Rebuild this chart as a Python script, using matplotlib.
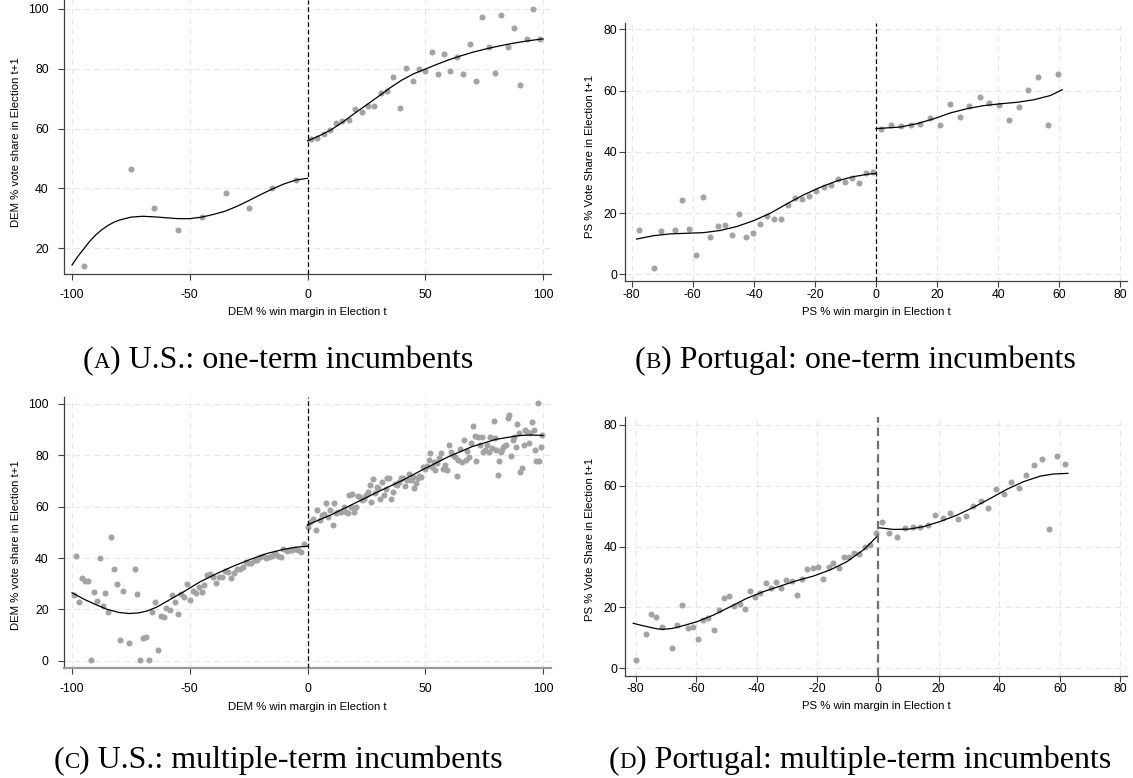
import matplotlib
matplotlib.use("Agg")
import matplotlib.pyplot as plt

plt.rcParams["font.family"] = ["Liberation Sans", "DejaVu Sans"]
plt.rcParams["axes.unicode_minus"] = False

# ---- data (binned means + fitted curves) ----

# (A) U.S.: one-term incumbents
a_x = [-95.0, -74.9, -65.0, -55.0, -44.9, -34.8, -24.9, -14.9, -5.0,
       1.4, 4.0, 6.8, 9.5, 12.1, 14.8, 17.5, 20.3, 23.0, 25.7,
       28.4, 31.1, 33.8, 36.4, 39.1, 41.8, 44.6, 47.3, 50.0, 52.7,
       55.4, 58.1, 60.7, 63.4, 66.1, 68.8, 71.6, 74.3, 77.0, 79.7,
       82.3, 85.0, 87.7, 90.4, 93.1, 95.9, 98.6]
a_y = [14.1, 46.5, 33.4, 26.1, 30.6, 38.4, 33.4, 40.3, 42.8,
       56.4, 57.0, 58.1, 59.7, 61.8, 62.7, 62.8, 66.5, 65.6, 67.6,
       67.6, 71.8, 72.6, 77.2, 66.9, 80.2, 75.8, 79.8, 79.3, 85.5,
       78.3, 85.0, 79.2, 83.8, 78.4, 88.3, 76.0, 97.4, 87.4, 78.6,
       98.0, 87.3, 93.8, 74.6, 90.1, 100.1, 90.0]
a_fit_lx = [-100, -97.5, -95, -92.5, -90, -87.5, -85, -82.5, -80, -75, -70, -65, -60,
            -55, -50, -45, -40, -35, -30, -25, -20, -15, -10, -5, 0]
a_fit_ly = [14.4, 17.3, 19.8, 22.3, 24.4, 26.1, 27.5, 28.6, 29.4, 30.4, 30.7, 30.5,
            30.2, 29.9, 29.9, 30.4, 31.3, 32.4, 34.0, 35.9, 37.9, 39.8, 41.5, 42.8, 43.4]
a_fit_rx = [0, 5, 10, 15, 20, 25, 30, 35, 40, 45, 50,
            55, 60, 65, 70, 75, 80, 85, 90, 95, 100]
a_fit_ry = [55.9, 57.6, 59.6, 62.2, 65.1, 67.9, 70.7, 73.6, 76.2, 78.3, 79.9,
            81.5, 83.0, 84.3, 85.5, 86.5, 87.4, 88.2, 88.9, 89.5, 90.0]

# (B) Portugal: one-term incumbents
b_x = [-77.5, -72.7, -70.4, -65.7, -63.4, -61.1, -58.9, -56.5, -54.2, -51.9,
       -49.6, -47.2, -44.9, -42.6, -40.4, -38.1, -35.7, -33.4, -31.1, -28.7,
       -26.4, -24.1, -21.8, -19.5, -17.1, -14.8, -12.5, -10.2, -7.8, -5.5,
       -3.2, -1.0,
       1.8, 5.0, 8.2, 11.4, 14.5, 17.8, 21.0, 24.2, 27.5, 30.6,
       33.9, 37.1, 40.3, 43.6, 46.7, 49.9, 53.2, 56.4, 59.6]
b_y = [14.5, 2.0, 14.1, 14.4, 24.3, 14.7, 6.3, 25.4, 12.3, 15.7,
       16.0, 12.7, 19.6, 12.2, 13.5, 16.4, 19.2, 18.0, 18.0, 22.7,
       25.0, 24.5, 25.6, 27.3, 28.5, 29.3, 31.0, 30.1, 31.3, 29.9,
       33.0, 33.5,
       47.6, 48.9, 48.6, 48.7, 49.0, 51.1, 48.9, 55.5, 51.4, 55.0,
       57.9, 56.1, 55.2, 50.4, 54.8, 60.2, 64.5, 48.9, 65.3]
b_fit_lx = [-78.4, -72.9, -67.4, -62.0, -56.5, -51.1, -45.6, -40.1,
            -34.7, -29.2, -23.8, -18.3, -12.8, -7.4, -1.9, 0]
b_fit_ly = [11.5, 12.6, 13.2, 13.4, 13.6, 14.3, 15.6, 17.5,
            19.9, 23.0, 25.9, 28.4, 30.5, 31.9, 32.8, 32.9]
b_fit_rx = [0, 7.9, 13.4, 18.9, 24.3, 29.8, 35.2, 40.7, 46.2, 51.6, 57.1, 61.0]
b_fit_ry = [47.6, 48.1, 49.2, 50.8, 52.7, 54.1, 55.1, 55.7, 56.2, 57.0, 58.4, 60.3]

# (C) U.S.: multiple-term incumbents
c_x = [-99.3, -98.2, -96.9, -95.6, -94.3, -93.2, -92.1, -90.8, -89.5, -88.2,
       -87.0, -85.8, -84.6, -83.3, -82.0, -80.9, -79.6, -78.3, -75.9, -73.4,
       -72.2, -71.0, -69.8, -68.6, -67.3, -66.0, -64.9, -63.6, -62.3, -61.0,
       -59.9, -58.6, -57.4, -56.1, -54.8, -53.7, -52.4, -51.1, -49.9, -48.7,
       -47.5, -46.2, -44.9, -43.8, -42.5, -41.2, -40.0, -38.7, -37.5, -36.3,
       -35.0, -33.7, -32.6, -31.3, -30.0, -28.8, -27.5, -26.3, -25.1, -23.8,
       -22.5, -21.4, -20.1, -18.8, -17.6, -16.3, -15.2, -13.9, -12.6, -11.3,
       -10.2, -8.9, -7.6, -6.4, -5.2, -4.0, -2.7, -1.4,
       0.4, 1.1, 2.3, 3.5, 4.2, 5.1, 6.1, 7.1, 7.9, 8.6,
       9.6, 10.7, 11.4, 12.1, 13.1, 14.1, 15.3, 16.4, 17.1, 17.8,
       18.5, 19.1, 19.8, 20.6, 21.3, 22.3, 23.3, 24.0, 24.9, 25.8,
       26.6, 27.1, 28.0, 28.7, 29.4, 30.1, 30.8, 31.6, 32.5, 33.3,
       33.9, 34.6, 35.3, 36.2, 37.1, 38.1, 39.0, 39.8, 40.7, 41.5,
       42.4, 43.2, 43.9, 44.6, 45.3, 46.0, 46.8, 47.5, 48.0, 48.9,
       49.9, 50.7, 51.6, 52.0, 52.8, 53.7, 54.2, 55.1, 55.9, 56.8,
       57.6, 58.5, 59.3, 60.2, 61.0, 61.9, 62.7, 63.4, 64.1, 64.8,
       65.5, 66.4, 67.1, 67.8, 68.5, 69.4, 70.2, 71.0, 71.6, 72.3,
       73.2, 73.9, 74.6, 75.4, 76.3, 77.0, 77.7, 78.2, 79.1, 79.7,
       80.2, 80.9, 81.5, 82.2, 82.8, 83.3, 84.2, 85.0, 85.7, 86.4,
       87.1, 87.9, 88.4, 89.1, 89.8, 90.4, 91.1, 91.8, 92.5, 93.2,
       93.9, 94.6, 95.3, 96.0, 96.6, 97.2, 97.7, 98.3, 99.0, 99.7]
c_y = [25.6, 40.9, 22.7, 32.1, 31.0, 31.0, 0.3, 26.6, 23.4, 40.1,
       21.3, 26.2, 19.1, 48.3, 35.6, 29.9, 8.1, 27.3, 7.1, 35.7,
       25.8, 0.3, 8.7, 9.4, 0.3, 19.1, 22.7, 4.2, 17.5, 17.1,
       20.4, 19.7, 25.6, 22.7, 18.1, 25.8, 24.9, 29.9, 23.6, 27.1,
       26.5, 28.6, 26.6, 29.5, 33.4, 33.6, 32.7, 30.1, 32.7, 32.7,
       34.9, 34.7, 32.1, 34.3, 35.6, 35.7, 36.6, 38.6, 37.9, 38.2,
       39.2, 39.2, 40.5, 40.9, 39.9, 40.5, 40.9, 41.8, 40.9, 40.5,
       43.4, 42.7, 43.1, 43.1, 43.6, 43.1, 42.2, 45.3,
       52.2, 54.2, 55.1, 50.9, 58.7, 54.8, 56.8, 57.1, 61.3, 56.1,
       58.7, 52.9, 61.6, 57.4, 58.1, 58.1, 60.0, 58.1, 57.4, 64.5,
       60.0, 64.9, 58.1, 60.0, 64.2, 63.9, 62.6, 62.9, 64.5, 65.8,
       68.4, 61.9, 70.6, 65.2, 67.8, 67.1, 62.9, 69.4, 64.5, 66.9,
       71.3, 71.3, 62.9, 65.8, 68.7, 68.4, 69.7, 71.3, 71.0, 68.1,
       70.4, 72.7, 70.4, 71.4, 67.1, 69.1, 71.0, 71.9, 71.4, 75.3,
       74.5, 75.8, 78.2, 80.8, 75.6, 77.5, 74.3, 77.1, 78.8, 80.8,
       74.5, 76.2, 74.3, 84.0, 81.4, 80.1, 79.5, 72.1, 78.2, 82.3,
       77.5, 86.0, 78.2, 81.8, 79.5, 84.9, 91.2, 87.5, 77.8, 87.3,
       84.0, 87.3, 81.4, 82.1, 84.0, 81.4, 87.3, 82.7, 93.4, 86.6,
       82.1, 72.3, 77.9, 81.4, 82.3, 83.6, 84.0, 94.7, 95.7, 79.7,
       86.0, 87.3, 83.4, 92.1, 88.8, 73.6, 74.9, 84.0, 89.9, 89.2,
       84.7, 88.6, 92.9, 89.9, 82.1, 77.8, 100.3, 77.8, 83.1, 87.9]
c_fit_lx = [-100, -95, -90, -85, -80, -76, -72, -68, -64, -59.6, -52.5, -45.5,
            -38.4, -31.3, -24.2, -17.1, -10, -5, 0]
c_fit_ly = [26.5, 24.0, 21.9, 20.0, 18.8, 18.4, 18.6, 19.4, 20.9, 23.2, 26.9, 30.8,
            34.0, 36.9, 39.5, 41.8, 43.4, 44.2, 44.6]
c_fit_rx = [0, 10, 20, 30, 40, 50, 60, 70, 80, 90, 95, 100]
c_fit_ry = [52.9, 56.8, 61.3, 65.8, 70.1, 74.9, 79.5, 83.4, 86.2, 87.7, 87.9, 87.7]

# (D) Portugal: multiple-term incumbents
d_x = [-80.0, -76.6, -74.8, -73.2, -71.4, -68.0, -66.2, -64.6, -62.8, -61.2,
       -59.4, -57.6, -56.0, -54.2, -52.5, -50.8, -49.1, -47.4, -45.6, -43.9,
       -42.2, -40.5, -38.8, -37.0, -35.3, -33.6, -31.9, -30.2, -28.5, -26.7,
       -25.0, -23.3, -21.5, -19.9, -18.1, -16.3, -14.7, -12.9, -11.2, -9.5,
       -7.8, -6.1, -4.3, -2.6, -0.8,
       1.3, 3.8, 6.3, 8.9, 11.4, 13.8, 16.4, 18.9, 21.4, 23.9,
       26.4, 28.9, 31.5, 34.0, 36.4, 38.9, 41.5, 44.0, 46.4, 49.0,
       51.5, 54.0, 56.6, 59.1, 61.6]
d_y = [2.7, 11.2, 17.8, 16.7, 13.5, 6.6, 14.3, 20.7, 13.2, 13.5,
       9.8, 15.9, 16.6, 12.7, 19.0, 23.0, 23.7, 20.5, 21.0, 19.6,
       25.4, 23.5, 24.6, 28.0, 26.3, 28.3, 26.3, 28.9, 28.6, 24.1,
       29.3, 32.6, 32.8, 33.2, 29.3, 33.2, 34.6, 32.9, 36.4, 36.7,
       38.0, 37.4, 39.9, 40.4, 44.3,
       47.9, 44.5, 43.2, 46.0, 46.3, 46.3, 46.9, 50.3, 49.2, 50.9,
       49.0, 50.0, 53.4, 54.9, 52.5, 59.0, 57.3, 61.3, 59.2, 63.5,
       66.6, 68.7, 45.7, 69.7, 67.2]
d_fit_lx = [-80.8, -78, -75.3, -73, -70.9, -68, -65.4, -59.8, -54.3, -48.8, -43.3,
            -37.8, -32.3, -26.8, -21.3, -15.8, -10.3, -4.8, -2.6, 0]
d_fit_ly = [14.8, 14.1, 13.5, 13.0, 12.8, 13.1, 13.7, 15.3, 17.5, 20.2, 23.0,
            25.2, 27.0, 28.8, 30.3, 32.3, 35.0, 38.9, 41.0, 43.6]
d_fit_rx = [0, 5.1, 10.1, 15.0, 20.5, 26.1, 31.6, 37.1, 42.6, 48.1, 53.6, 58.0, 62.7]
d_fit_ry = [46.2, 45.6, 45.7, 46.5, 48.2, 50.3, 52.9, 55.8, 58.8, 61.3, 63.1, 63.8, 64.0]

us_xticks = [-100, -50, 0, 50, 100]
us_yticks_a = [20, 40, 60, 80, 100]
us_yticks_c = [0, 20, 40, 60, 80, 100]
pt_xticks = [-80, -60, -40, -20, 0, 20, 40, 60, 80]
pt_yticks = [0, 20, 40, 60, 80]

us_xlabel = "DEM % win margin in Election t"
us_ylabel = "DEM % vote share in Election t+1"
pt_xlabel = "PS % win margin in Election t"
pt_ylabel = "PS % Vote Share in Election t+1"

captions = [("A", "U.S.: one-term incumbents"),
            ("B", "Portugal: one-term incumbents"),
            ("C", "U.S.: multiple-term incumbents"),
            ("D", "Portugal: multiple-term incumbents")]

# ---- figure ----
W, H = 1133, 778
fig = plt.figure(figsize=(W / 100, H / 100), dpi=100)
serif = ["Liberation Serif", "DejaVu Serif"]

DOT = "#a3a3a3"
SPINE = "#404040"


def panel(box, xs, ys, fits, xlim, ylim, xticks, yticks, xlabel, ylabel,
          xpad, ypad, xlab_y, ylab_xy, cut_color="black", cut_lw=0.9):
    left, right, top, bottom = box
    ax = fig.add_axes([left / W, 1 - bottom / H, (right - left) / W, (bottom - top) / H])
    ax.set_xlim(*xlim)
    ax.set_ylim(*ylim)
    ax.set_xticks(xticks)
    ax.set_yticks(yticks)
    ax.grid(True, color="#e6e6e6", lw=0.8, ls=(0, (5, 4)))
    ax.set_axisbelow(True)
    for s in ("top", "right"):
        ax.spines[s].set_visible(False)
    for s in ("left", "bottom"):
        ax.spines[s].set_color(SPINE)
        ax.spines[s].set_linewidth(0.9)
    ax.tick_params(axis="x", length=4, width=0.8, color=SPINE, pad=xpad, labelsize=8.7)
    ax.tick_params(axis="y", length=4, width=0.8, color=SPINE, pad=ypad, labelsize=8.7)

    ax.scatter(xs, ys, s=19, color=DOT, linewidths=0, zorder=2)
    for fx, fy in fits:
        ax.plot(fx, fy, color="black", lw=0.9, zorder=3)
    ax.axvline(0, color=cut_color, lw=cut_lw, ls=(0, (3.8, 2.2)), zorder=4)

    ax.set_xlabel(xlabel, fontsize=8.2)
    ax.set_ylabel(ylabel, fontsize=8.2)
    ax.xaxis.label.set_va("center")
    ax.yaxis.label.set_va("center")
    ax.xaxis.set_label_coords(0.5, (bottom - xlab_y) / (bottom - top))
    ax.yaxis.set_label_coords((ylab_xy[0] - left) / (right - left),
                              (bottom - ylab_xy[1]) / (bottom - top))
    return ax


panel((64, 551, 0, 274), a_x, a_y,
      [(a_fit_lx, a_fit_ly), (a_fit_rx, a_fit_ry)],
      (-103.4, 103.4), (11.4, 103.0), us_xticks, us_yticks_a,
      us_xlabel, us_ylabel, 7, 7, 312, (16, 142))

panel((625, 1127, 22.7, 281), b_x, b_y,
      [(b_fit_lx, b_fit_ly), (b_fit_rx, b_fit_ry)],
      (-82.2, 82.2), (-2.2, 82.2), pt_xticks, pt_yticks,
      pt_xlabel, pt_ylabel, 1.5, 1.5, 312.5, (590, 156))

ax_c = panel((64, 551, 396.7, 667.7), c_x, c_y,
             [(c_fit_lx, c_fit_ly), (c_fit_rx, c_fit_ry)],
             (-103.4, 103.4), (-2.7, 102.8), us_xticks, us_yticks_c,
             us_xlabel, us_ylabel, 7, 7, 707, (16, 545))
ax_c.spines["bottom"].set_color("#9a9a9a")
ax_c.spines["bottom"].set_linewidth(1.6)

panel((625, 1127, 417.3, 675.7), d_x, d_y,
      [(d_fit_lx, d_fit_ly), (d_fit_rx, d_fit_ry)],
      (-83.5, 82.2), (-2.4, 82.4), pt_xticks, pt_yticks,
      pt_xlabel, pt_ylabel, 1.5, 1.5, 706, (590, 539),
      cut_color="#707070", cut_lw=1.6)

# ---- captions with a small-caps panel letter ----
renderer = fig.canvas.get_renderer()
cap_pos = [(278, 368), (855, 368), (278, 768), (860, 768)]
for (letter, rest), (xc, yb) in zip(captions, cap_pos):
    parts = [("(", 23), (letter, 16.5), (") " + rest, 23)]
    texts = [fig.text(0, 1 - yb / H, s, fontsize=fs, family=serif, va="baseline")
             for s, fs in parts]
    widths = [t.get_window_extent(renderer).width for t in texts]
    x = xc - sum(widths) / 2
    for t, w in zip(texts, widths):
        t.set_x(x / W)
        x += w

fig.savefig("out.png", dpi=100)
